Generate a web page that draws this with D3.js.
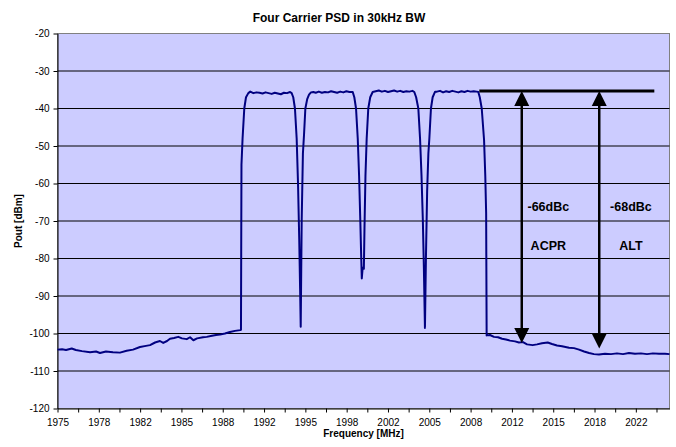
<!DOCTYPE html>
<html><head><meta charset="utf-8">
<script src="https://cdn.jsdelivr.net/npm/d3@7"></script>
<style>
html,body{margin:0;padding:0;background:#fff;}
svg{display:block;font-family:"Liberation Sans",Arial,sans-serif;}
</style></head>
<body><svg id="c" width="676" height="447"></svg>
<script>
// ---- data (MHz, dBm) ----
const lowerFloor = [[1975.0,-104.3],[1975.37,-104.2],[1975.7,-104.4],[1976.16,-104.0],[1976.5,-104.4],[1977.0,-104.7],[1977.66,-105.0],[1978.15,-104.8],[1978.47,-105.2],[1978.96,-104.8],[1979.53,-105.0],[1980.1,-105.1],[1980.65,-104.6],[1981.17,-104.3],[1981.74,-103.6],[1982.23,-103.3],[1982.56,-103.1],[1982.97,-102.4],[1983.37,-102.0],[1983.64,-102.5],[1983.95,-102.0],[1984.19,-101.4],[1984.52,-101.2],[1984.87,-100.9],[1985.17,-101.3],[1985.56,-101.5],[1985.83,-101.0],[1986.1,-101.8],[1986.4,-101.3],[1986.89,-101.0],[1987.19,-100.9],[1987.62,-100.6],[1987.95,-100.4],[1988.28,-100.3],[1988.68,-100.0],[1989.09,-99.6],[1989.5,-99.3],[1989.92,-99.1]];
const carrierA = [[1989.99,-99.0],[1990.03,-55],[1990.12,-48],[1990.26,-40],[1990.4,-37],[1990.59,-35.9],[1990.75,-35.5],[1991.0,-35.9],[1991.25,-35.7],[1991.5,-35.8],[1991.75,-36.0],[1992.0,-35.7],[1992.25,-35.9],[1992.5,-36.1],[1992.75,-35.8],[1993.0,-36.0],[1993.25,-36.2],[1993.5,-35.8],[1993.75,-35.9],[1994.0,-35.6],[1994.13,-35.9],[1994.26,-37],[1994.4,-40],[1994.54,-48],[1994.65,-60],[1994.75,-75],[1994.82,-88],[1994.87,-98.2]];
const carrierB = [[1994.95,-70],[1995.05,-52],[1995.14,-47],[1995.25,-40],[1995.4,-37.5],[1995.55,-36.3],[1995.71,-35.7],[1995.9,-35.6],[1996.1,-35.8],[1996.35,-35.5],[1996.6,-35.8],[1996.85,-35.6],[1997.1,-35.7],[1997.35,-35.4],[1997.6,-35.6],[1997.85,-35.8],[1998.1,-35.5],[1998.35,-35.7],[1998.6,-35.4],[1998.85,-35.6],[1999.12,-35.6],[1999.25,-37],[1999.39,-40],[1999.53,-48],[1999.64,-58],[1999.74,-70],[1999.8,-78],[1999.86,-85.3],[1999.93,-82.5],[2000.03,-82.7]];
const carrierC = [[2000.08,-72],[2000.16,-58],[2000.26,-48],[2000.39,-40],[2000.55,-37],[2000.75,-35.6],[2001.0,-35.4],[2001.25,-35.2],[2001.5,-35.5],[2001.75,-35.3],[2002.0,-35.6],[2002.25,-35.4],[2002.5,-35.2],[2002.75,-35.5],[2003.0,-35.3],[2003.25,-35.6],[2003.5,-35.4],[2003.75,-35.5],[2004.0,-35.3],[2004.15,-35.6],[2004.3,-37],[2004.48,-40],[2004.62,-48],[2004.74,-58],[2004.85,-70],[2004.93,-82],[2005.02,-98.5]];
const carrierD = [[2005.1,-80],[2005.2,-62],[2005.3,-52],[2005.38,-48],[2005.51,-40],[2005.65,-37],[2005.85,-35.5],[2006.0,-35.5],[2006.25,-35.3],[2006.5,-35.7],[2006.75,-35.4],[2007.0,-35.6],[2007.25,-35.3],[2007.5,-35.5],[2007.75,-35.7],[2008.0,-35.4],[2008.25,-35.6],[2008.5,-35.3],[2008.75,-35.5],[2009.0,-35.4],[2009.25,-35.5],[2009.38,-35.6],[2009.5,-37],[2009.66,-40],[2009.85,-48.4],[2009.95,-58],[2010.02,-68],[2010.06,-100.5]];
const upperFloor = [[2010.33,-100.4],[2010.66,-100.9],[2010.99,-101.0],[2011.32,-101.4],[2011.64,-101.6],[2011.97,-101.9],[2012.38,-102.1],[2012.7,-102.4],[2013.03,-102.3],[2013.36,-102.9],[2013.82,-103.1],[2014.18,-102.9],[2014.58,-102.6],[2015.05,-102.4],[2015.4,-102.8],[2015.81,-103.2],[2016.22,-103.4],[2016.79,-103.8],[2017.2,-103.9],[2017.61,-104.3],[2018.02,-104.8],[2018.43,-105.2],[2018.83,-105.5],[2019.24,-105.6],[2019.73,-105.4],[2020.22,-105.5],[2020.71,-105.3],[2021.2,-105.5],[2021.69,-105.2],[2022.18,-105.4],[2022.67,-105.3],[2023.16,-105.5],[2023.65,-105.3],[2024.14,-105.4],[2024.63,-105.4],[2025.0,-105.5]];

const xTickLabels = ["1975","1978","1982","1985","1988","1992","1995","1998","2002","2005","2008","2012","2015","2018","2022"];
const yTickValues = [-120,-110,-100,-90,-80,-70,-60,-50,-40,-30,-20];
const xDomain = [1975, 2025];
const xLabelStep = 3.375;          // MHz between labelled ticks

// annotation values
const refLevel = -35.3, refStart = 2009.46, refEnd = 2023.76;
const markers = [
  {freq: 2012.93, level: -102.5, value: "-66dBc", name: "ACPR", textFreq: 2015.1},
  {freq: 2019.26, level: -104.0, value: "-68dBc", name: "ALT",  textFreq: 2021.85}
];
const valueTextLevel = -67.4, nameTextLevel = -77.8;

// ---- drawing ----
const svg = d3.select("#c");
const x = d3.scaleLinear().domain(xDomain).range([57.5, 669.5]);
const y = d3.scaleLinear().domain([-120, -20]).range([408.5, 33.5]);

// plot area
svg.append("rect").attr("x", x(1975)).attr("y", y(-20))
  .attr("width", x(2025) - x(1975)).attr("height", y(-120) - y(-20))
  .attr("fill", "#CCCCFF").attr("stroke", "#808080").attr("stroke-width", 1);

// gridlines
svg.append("g").selectAll("line").data(yTickValues.filter(v => v > -120 && v < -20)).join("line")
  .attr("x1", x(1975)).attr("x2", x(2025)).attr("y1", d => y(d)).attr("y2", d => y(d))
  .attr("stroke", "#000").attr("stroke-width", 1);

// axes
const xTicks = d3.range(0, 30).map(k => xDomain[0] + k * xLabelStep / 2).filter(f => f <= xDomain[1]);
const xAxis = d3.axisBottom(x).tickValues(xTicks).tickSize(4).tickSizeOuter(0).tickPadding(4)
  .tickFormat((d, i) => i % 2 === 0 ? xTickLabels[i / 2] : "");
const gx = svg.append("g").attr("transform", `translate(0,${y(-120)})`).call(xAxis);
const yAxis = d3.axisLeft(y).tickValues(yTickValues).tickSize(4).tickSizeOuter(0).tickPadding(4)
  .tickFormat(d => String(d));
const gy = svg.append("g").attr("transform", `translate(${x(1975)},0)`).call(yAxis);
[gx, gy].forEach(g => {
  g.selectAll("path.domain").attr("stroke", "#000");
  g.selectAll("line").attr("stroke", "#000");
  g.selectAll("text").attr("font-size", 10).attr("fill", "#000")
    .attr("font-family", '"Liberation Sans",Arial,sans-serif');
});
gx.selectAll("text").attr("dy", "0.9em");

// series
const series = [].concat(lowerFloor, carrierA, carrierB, carrierC, carrierD, upperFloor);
const line = d3.line().x(d => x(d[0])).y(d => y(d[1]));
svg.append("path").datum(series).attr("d", line)
  .attr("fill", "none").attr("stroke", "#000080").attr("stroke-width", 2)
  .attr("stroke-linejoin", "round");

// annotations
const ann = svg.append("g");
ann.append("line").attr("x1", x(refStart)).attr("x2", x(refEnd))
  .attr("y1", y(refLevel)).attr("y2", y(refLevel))
  .attr("stroke", "#000").attr("stroke-width", 3);
const headL = 15, headW = 7.5;
markers.forEach(m => {
  const cx = x(m.freq), yt = y(refLevel), yb = y(m.level);
  ann.append("line").attr("x1", cx).attr("x2", cx).attr("y1", yt + headL - 1).attr("y2", yb - headL + 1)
    .attr("stroke", "#000").attr("stroke-width", 2.5);
  ann.append("path").attr("d", `M${cx},${yt}L${cx - headW},${yt + headL}L${cx + headW},${yt + headL}Z`).attr("fill", "#000");
  ann.append("path").attr("d", `M${cx},${yb}L${cx - headW},${yb - headL}L${cx + headW},${yb - headL}Z`).attr("fill", "#000");
  ann.append("text").attr("x", x(m.textFreq)).attr("y", y(valueTextLevel)).attr("text-anchor", "middle")
    .attr("font-size", 12.5).attr("font-weight", "bold").text(m.value);
  ann.append("text").attr("x", x(m.textFreq)).attr("y", y(nameTextLevel)).attr("text-anchor", "middle")
    .attr("font-size", 12.5).attr("font-weight", "bold").text(m.name);
});

// titles
svg.append("text").attr("x", 339).attr("y", 21.5).attr("text-anchor", "middle")
  .attr("font-size", 12).attr("font-weight", "bold").text("Four Carrier PSD in 30kHz BW");
svg.append("text").attr("x", (x(1975) + x(2025)) / 2).attr("y", 437).attr("text-anchor", "middle")
  .attr("font-size", 10).attr("font-weight", "bold").text("Frequency [MHz]");
svg.append("text").attr("transform", `translate(22,${(y(-20) + y(-120)) / 2}) rotate(-90)`)
  .attr("text-anchor", "middle").attr("font-size", 10).attr("font-weight", "bold").text("Pout [dBm]");
</script></body></html>
